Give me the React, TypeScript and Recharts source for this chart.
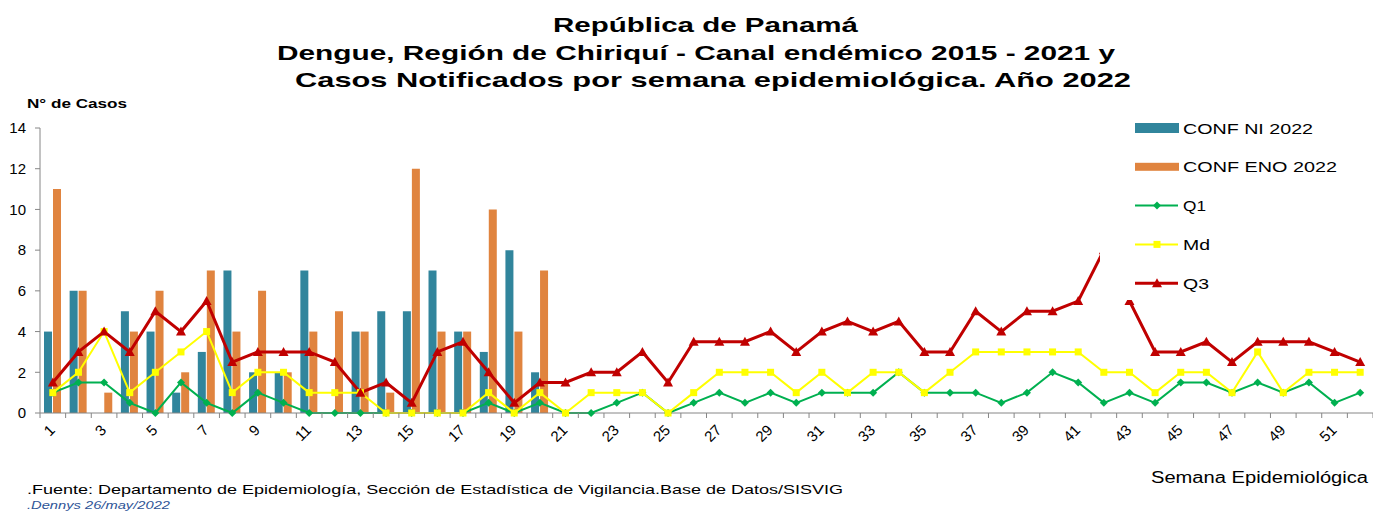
import React from 'react';
import { ComposedChart, Bar, Line, XAxis, YAxis, Legend } from 'recharts';

// semanas epidemiológicas
const weeks = [
  1, 2, 3, 4, 5, 6, 7, 8, 9, 10, 11, 12, 13, 14, 15, 16, 17, 18, 19, 20, 21, 22, 23, 24, 25, 26,
  27, 28, 29, 30, 31, 32, 33, 34, 35, 36, 37, 38, 39, 40, 41, 42, 43, 44, 45, 46, 47, 48, 49, 50, 51, 52,
];

// casos notificados 2022 (hasta semana 20)
const confNI = [4, 6, 0, 5, 4, 1, 3, 7, 2, 2, 7, 0, 4, 5, 5, 7, 4, 3, 8, 2];
const confENO = [11, 6, 1, 4, 6, 2, 7, 4, 6, 2, 4, 5, 4, 1, 12, 4, 4, 10, 4, 7];

// canal endémico 2015 - 2021
const q1 = [
  1, 1.5, 1.5, 0.5, 0, 1.5, 0.5, 0, 1, 0.5, 0, 0, 0, 0, 0, 0, 0, 0.5, 0, 0.5, 0, 0, 0.5, 1, 0, 0.5,
  1, 0.5, 1, 0.5, 1, 1, 1, 2, 1, 1, 1, 0.5, 1, 2, 1.5, 0.5, 1, 0.5, 1.5, 1.5, 1, 1.5, 1, 1.5, 0.5, 1,
];
const md = [
  1, 2, 4, 1, 2, 3, 4, 1, 2, 2, 1, 1, 1, 0, 0, 0, 0, 1, 0, 1, 0, 1, 1, 1, 0, 1,
  2, 2, 2, 1, 2, 1, 2, 2, 1, 2, 3, 3, 3, 3, 3, 2, 2, 1, 2, 2, 1, 3, 1, 2, 2, 2,
];
const q3 = [
  1.5, 3, 4, 3, 5, 4, 5.5, 2.5, 3, 3, 3, 2.5, 1, 1.5, 0.5, 3, 3.5, 2, 0.5, 1.5, 1.5, 2, 2, 3, 1.5, 3.5,
  3.5, 3.5, 4, 3, 4, 4.5, 4, 4.5, 3, 3, 5, 4, 5, 5, 5.5, 8, 5.5, 3, 3, 3.5, 2.5, 3.5, 3.5, 3.5, 3, 2.5,
];

const yTicks = [0, 2, 4, 6, 8, 10, 12, 14];

const data = weeks.map((w, i) => ({
  week: w,
  ni: confNI[i],
  eno: confENO[i],
  q1: q1[i],
  md: md[i],
  q3: q3[i],
}));

const NI_COLOR = '#31859C';
const ENO_COLOR = '#E0843F';
const Q1_COLOR = '#00B050';
const MD_COLOR = '#FFFF00';
const Q3_COLOR = '#C00000';
const AXIS_COLOR = '#868686';
const FONT = '"Liberation Sans", Arial, sans-serif';

const TriangleDot = (props: any) => {
  const { cx, cy, index } = props;
  if (cx == null || cy == null) return <g key={`t${index}`} />;
  return (
    <polygon key={`t${index}`} points={`${cx},${cy - 5} ${cx - 5},${cy + 4} ${cx + 5},${cy + 4}`} fill={Q3_COLOR} />
  );
};

const SquareDot = (props: any) => {
  const { cx, cy, index } = props;
  if (cx == null || cy == null) return <g key={`s${index}`} />;
  return <rect key={`s${index}`} x={cx - 3.5} y={cy - 3.5} width={7} height={7} fill={MD_COLOR} />;
};

const DiamondDot = (props: any) => {
  const { cx, cy, index } = props;
  if (cx == null || cy == null) return <g key={`d${index}`} />;
  return (
    <polygon key={`d${index}`} points={`${cx},${cy - 4} ${cx + 4},${cy} ${cx},${cy + 4} ${cx - 4},${cy}`} fill={Q1_COLOR} />
  );
};

// marcas entre categorías (estilo Excel) y etiqueta sólo en semanas impares
const WeekTick = (props: any) => {
  const { x, y, payload, index } = props;
  const half = payload.offset || 0;
  const last = index === weeks.length - 1;
  return (
    <g>
      <line x1={x - half} x2={x - half} y1={y} y2={y + 5} stroke={AXIS_COLOR} />
      {last && <line x1={x + half} x2={x + half} y1={y} y2={y + 5} stroke={AXIS_COLOR} />}
      {payload.value % 2 === 1 && (
        <g transform={`translate(${x + 3},${y + 18}) rotate(-45)`}>
          <text textAnchor="end" fontSize={15} fontFamily={FONT} fill="#000">
            {payload.value}
          </text>
        </g>
      )}
    </g>
  );
};

const legendItems = [
  { name: 'CONF NI 2022', color: NI_COLOR, kind: 'bar', len: 130 },
  { name: 'CONF ENO 2022', color: ENO_COLOR, kind: 'bar', len: 154 },
  { name: 'Q1', color: Q1_COLOR, kind: 'q1', len: 23 },
  { name: 'Md', color: MD_COLOR, kind: 'md', len: 27 },
  { name: 'Q3', color: Q3_COLOR, kind: 'q3', len: 26 },
];

const LegendBox = () => (
  <svg width={273} height={192}>
    {legendItems.map((it, i) => {
      const cy = 20 + i * 38.8;
      let icon: React.ReactNode;
      if (it.kind === 'bar') {
        icon = <rect x={35} y={cy - (i === 0 ? 5 : 4)} width={44} height={i === 0 ? 10 : 8} fill={it.color} />;
      } else {
        const sw = it.kind === 'q3' ? 3 : 2;
        icon = (
          <g>
            <line x1={35} x2={78} y1={cy} y2={cy} stroke={it.color} strokeWidth={sw} />
            {it.kind === 'q1' && <DiamondDot cx={57} cy={cy} index={0} />}
            {it.kind === 'md' && <SquareDot cx={57} cy={cy} index={0} />}
            {it.kind === 'q3' && <TriangleDot cx={57} cy={cy} index={0} />}
          </g>
        );
      }
      return (
        <g key={it.name}>
          {icon}
          <text x={83} y={cy + 5.5} fontSize={15} fontFamily={FONT} fill="#000" textLength={it.len} lengthAdjust="spacingAndGlyphs">
            {it.name}
          </text>
        </g>
      );
    })}
  </svg>
);

export default function App() {
  return (
    <div style={{ position: 'absolute', left: 0, top: 0, width: 1373, height: 511, background: '#fff', fontFamily: FONT }}>
      <ComposedChart
        width={1373}
        height={511}
        data={data}
        margin={{ top: 128, right: 0, left: 0, bottom: 58 }}
        barGap={1}
      >
        <XAxis
          dataKey="week"
          interval={0}
          tickLine={false}
          tickSize={0}
          tickMargin={0}
          axisLine={{ stroke: AXIS_COLOR }}
          tick={<WeekTick />}
          height={40}
        />
        <YAxis
          domain={[0, 14]}
          ticks={yTicks}
          width={40}
          tickSize={5}
          tickMargin={9}
          tickLine={{ stroke: AXIS_COLOR }}
          axisLine={{ stroke: AXIS_COLOR }}
          tick={{ fontSize: 15, fill: '#000', fontFamily: FONT }}
        />
        <Bar dataKey="ni" name="CONF NI 2022" fill={NI_COLOR} barSize={8} isAnimationActive={false} />
        <Bar dataKey="eno" name="CONF ENO 2022" fill={ENO_COLOR} barSize={8} isAnimationActive={false} />
        <Line
          dataKey="q1"
          name="Q1"
          stroke={Q1_COLOR}
          strokeWidth={2}
          dot={DiamondDot}
          activeDot={false}
          isAnimationActive={false}
        />
        <Line
          dataKey="md"
          name="Md"
          stroke={MD_COLOR}
          strokeWidth={2}
          dot={SquareDot}
          activeDot={false}
          isAnimationActive={false}
        />
        <Line
          dataKey="q3"
          name="Q3"
          stroke={Q3_COLOR}
          strokeWidth={3}
          dot={TriangleDot}
          activeDot={false}
          isAnimationActive={false}
        />
        <Legend
          layout="vertical"
          align="center"
          verticalAlign="middle"
          wrapperStyle={{ left: 1100, top: 108, width: 273, height: 192, background: '#fff' }}
          content={() => <LegendBox />}
        />
      </ComposedChart>
      <svg width={1373} height={511} style={{ position: 'absolute', left: 0, top: 0, pointerEvents: 'none' }}>
        <g fontFamily={FONT} fontWeight="bold" fontSize={21} fill="#000">
          <text x={553} y={32} textLength={305} lengthAdjust="spacingAndGlyphs">República de Panamá</text>
          <text x={277} y={60} textLength={838} lengthAdjust="spacingAndGlyphs">
            Dengue, Región de Chiriquí - Canal endémico 2015 - 2021 y
          </text>
          <text x={295} y={87} textLength={836} lengthAdjust="spacingAndGlyphs">
            Casos Notificados por semana epidemiológica. Año 2022
          </text>
        </g>
        <text x={27} y={108} fontFamily={FONT} fontWeight="bold" fontSize={13} textLength={100} lengthAdjust="spacingAndGlyphs">
          N° de Casos
        </text>
        <text x={1151} y={483} fontFamily={FONT} fontSize={16} textLength={217} lengthAdjust="spacingAndGlyphs">
          Semana Epidemiológica
        </text>
        <text x={27} y={494} fontFamily={FONT} fontSize={13} textLength={816} lengthAdjust="spacingAndGlyphs">
          .Fuente: Departamento de Epidemiología, Sección de Estadística de Vigilancia.Base de Datos/SISVIG
        </text>
        <text x={27} y={509} fontFamily={FONT} fontSize={11} fontStyle="italic" fill="#2F5597" textLength={143} lengthAdjust="spacingAndGlyphs">
          .Dennys  26/may/2022
        </text>
      </svg>
    </div>
  );
}
